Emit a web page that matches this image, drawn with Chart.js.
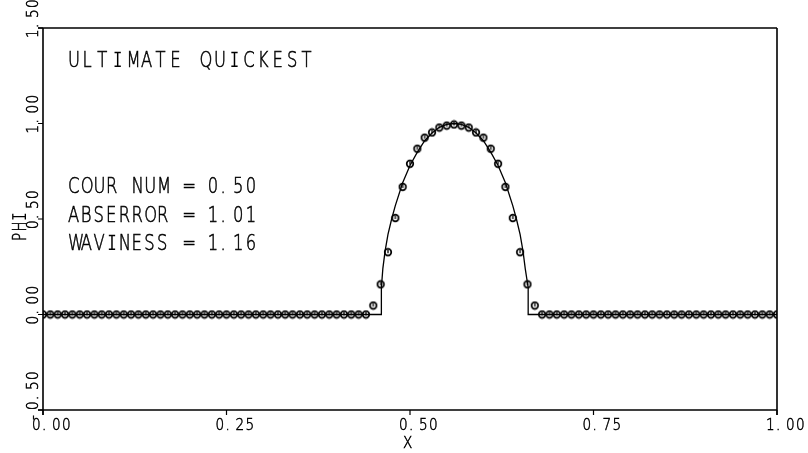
<!DOCTYPE html>
<html><head><meta charset="utf-8">
<script src="https://cdn.jsdelivr.net/npm/chart.js@4/dist/chart.umd.min.js"></script>
<style>html,body{margin:0;padding:0;background:#fff}#wrap{width:808px;height:453px}</style>
</head><body><div id="wrap"><canvas id="c" width="808" height="453"></canvas></div>
<script>
// ---- data ----
const title = "ULTIMATE QUICKEST";
const statLines = ["COUR NUM = 0.50", "ABSERROR = 1.01", "WAVINESS = 1.16"];
const xTicks = [0, 0.25, 0.5, 0.75, 1.0];
const xTickLabels = ["0.00", "0.25", "0.50", "0.75", "1.00"];
const yTicks = [-0.5, 0, 0.5, 1.0, 1.5];
const yTickLabels = ["-0.50", "0.00", "0.50", "1.00", "1.50"];
const xTitle = "X";
const yTitle = "PHI";

// exact solution (solid line)
const exactX = [0, 0.461, 0.461, 0.463, 0.466, 0.47, 0.475, 0.48, 0.49, 0.50, 0.51, 0.52, 0.53, 0.54, 0.55, 0.56,
                0.57, 0.58, 0.59, 0.60, 0.61, 0.62, 0.63, 0.64, 0.645, 0.65, 0.654, 0.657, 0.661, 0.661, 1.0];
const exactY = [0, 0, 0.14, 0.24, 0.33, 0.42, 0.50, 0.57, 0.69, 0.78, 0.85, 0.91, 0.95, 0.98, 0.995, 1.0,
                0.995, 0.98, 0.95, 0.91, 0.85, 0.78, 0.69, 0.57, 0.50, 0.42, 0.33, 0.24, 0.14, 0, 0];

// computed solution (markers)
const numX = [0.00,0.01,0.02,0.03,0.04,0.05,0.06,0.07,0.08,0.09,0.10,0.11,0.12,0.13,0.14,0.15,0.16,0.17,0.18,0.19,
              0.20,0.21,0.22,0.23,0.24,0.25,0.26,0.27,0.28,0.29,0.30,0.31,0.32,0.33,0.34,0.35,0.36,0.37,0.38,0.39,
              0.40,0.41,0.42,0.43,0.44,0.45,0.46,0.47,0.48,0.49,0.50,0.51,0.52,0.53,0.54,0.55,0.56,0.57,0.58,0.59,
              0.60,0.61,0.62,0.63,0.64,0.65,0.66,0.67,0.68,0.69,0.70,0.71,0.72,0.73,0.74,0.75,0.76,0.77,0.78,0.79,
              0.80,0.81,0.82,0.83,0.84,0.85,0.86,0.87,0.88,0.89,0.90,0.91,0.92,0.93,0.94,0.95,0.96,0.97,0.98,0.99,1.00];
const numY = [0,0,0,0,0,0,0,0,0,0,0,0,0,0,0,0,0,0,0,0,
              0,0,0,0,0,0,0,0,0,0,0,0,0,0,0,0,0,0,0,0,
              0,0,0,0,0,0.047,0.158,0.326,0.505,0.668,0.789,0.868,0.926,0.953,0.979,0.989,0.995,0.989,0.979,0.953,
              0.926,0.868,0.789,0.668,0.505,0.326,0.158,0.047,0,0,0,0,0,0,0,0,0,0,0,0,
              0,0,0,0,0,0,0,0,0,0,0,0,0,0,0,0,0,0,0,0,0];

// ---- marker image: circle with a small vertical stroke ----
function makeMarker(){
  const m = document.createElement('canvas'); m.width = 10; m.height = 10;
  const g = m.getContext('2d');
  g.strokeStyle = '#000'; g.lineWidth = 1.7;
  g.beginPath(); g.arc(5, 5, 3.3, 0, Math.PI*2); g.stroke();
  g.lineWidth = 1.3;
  g.beginPath(); g.moveTo(5, 2.5); g.lineTo(5, 6); g.stroke();
  return m;
}

const FONT = '"DejaVu Sans", sans-serif';
function spaced(ctx, text, x, y, adv, size, sx, rot){
  ctx.save();
  ctx.translate(x, y);
  ctx.rotate(rot || 0);
  ctx.font = '200 ' + size + 'px ' + FONT;
  ctx.textBaseline = 'alphabetic';
  ctx.textAlign = 'left';
  ctx.fillStyle = '#000';
  ctx.strokeStyle = '#000';
  ctx.lineWidth = 0.55;
  const cap = size * 0.729;
  for (let i = 0; i < text.length; i++){
    ctx.save();
    ctx.translate(i*adv, 0);
    if (text[i] === 'I') {
      // plotter-style I with cross bars
      const w = size * 0.3, cx = size * 0.28;
      ctx.lineWidth = size * 0.07;
      ctx.beginPath();
      ctx.moveTo(cx, 0); ctx.lineTo(cx, -cap);
      ctx.moveTo(cx - w/2, -cap + ctx.lineWidth/2); ctx.lineTo(cx + w/2, -cap + ctx.lineWidth/2);
      ctx.moveTo(cx - w/2, -ctx.lineWidth/2); ctx.lineTo(cx + w/2, -ctx.lineWidth/2);
      ctx.stroke();
    } else {
      ctx.scale(sx, 1);
      ctx.fillText(text[i], 0, 0);
      ctx.strokeText(text[i], 0, 0);
    }
    ctx.restore();
  }
  ctx.restore();
}

const plotter = {
  id: 'plotter',
  afterDraw(chart){
    const ctx = chart.ctx, a = chart.chartArea;
    const xs = chart.scales.x, ys = chart.scales.y;
    ctx.save();
    ctx.strokeStyle = '#000'; ctx.lineWidth = 1.6; ctx.lineCap = 'butt';
    ctx.beginPath();
    ctx.moveTo(a.left - 5, a.top); ctx.lineTo(a.right, a.top);
    ctx.moveTo(a.right, a.top); ctx.lineTo(a.right, a.bottom + 5);
    ctx.moveTo(a.left, a.top); ctx.lineTo(a.left, a.bottom + 5);
    ctx.moveTo(a.left - 5, a.bottom); ctx.lineTo(a.right, a.bottom);
    ctx.stroke();
    ctx.lineWidth = 1.2;
    ctx.beginPath();
    xTicks.forEach(v => { const p = xs.getPixelForValue(v); ctx.moveTo(p, a.bottom); ctx.lineTo(p, a.bottom + 5); });
    yTicks.forEach(v => { const p = ys.getPixelForValue(v); ctx.moveTo(a.left - 5, p); ctx.lineTo(a.left, p); });
    ctx.stroke();
    ctx.restore();

    xTicks.forEach((v, i) => {
      const p = xs.getPixelForValue(v);
      spaced(ctx, xTickLabels[i], p - 11, a.bottom + 20, 10, 16, 0.85, 0);
    });
    yTicks.forEach((v, i) => {
      const p = ys.getPixelForValue(v);
      spaced(ctx, yTickLabels[i], a.left - 5, p + 10, 10, 16, 0.85, -Math.PI/2);
    });
    spaced(ctx, xTitle, xs.getPixelForValue(0.5) - 7, a.bottom + 38, 10, 16, 0.85, 0);
    spaced(ctx, yTitle, 26, 241, 9.5, 19, 0.7, -Math.PI/2);

    spaced(ctx, title, a.left + 25, 67, 14.6, 21, 0.78, 0);
    statLines.forEach((t, i) => spaced(ctx, t, a.left + 25, 193 + i*28.5, 12.7, 21, 0.78, 0));
  }
};

new Chart(document.getElementById('c'), {
  type: 'scatter',
  data: {
    datasets: [
      { data: exactX.map((x, i) => ({x, y: exactY[i]})), showLine: true, borderColor: '#000',
        borderWidth: 1.3, pointRadius: 0, tension: 0, fill: false },
      { data: numX.map((x, i) => ({x, y: numY[i]})), showLine: false,
        pointStyle: makeMarker(), pointRadius: 4 }
    ]
  },
  plugins: [plotter],
  options: {
    responsive: false, animation: false, devicePixelRatio: 1,
    layout: { padding: { left: 43, right: 31, top: 28, bottom: 43 } },
    plugins: { legend: { display: false }, tooltip: { enabled: false } },
    scales: {
      x: { type: 'linear', min: 0, max: 1, display: false },
      y: { type: 'linear', min: -0.5, max: 1.5, display: false }
    }
  }
});
</script></body></html>
